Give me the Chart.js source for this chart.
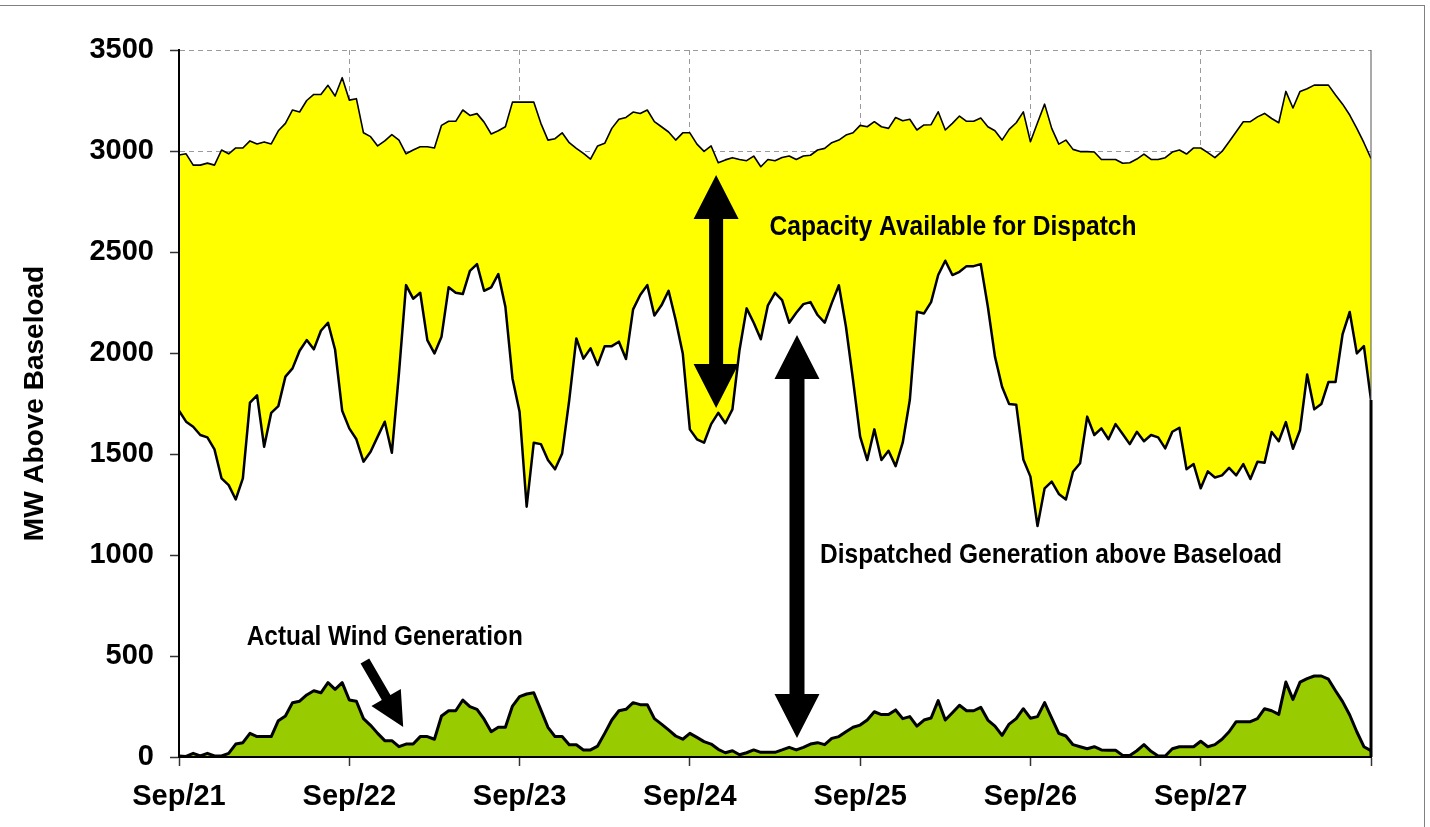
<!DOCTYPE html>
<html>
<head>
<meta charset="utf-8">
<script src="https://cdn.jsdelivr.net/npm/chart.js@4.4.0/dist/chart.umd.min.js"></script>
<style>
  html, body { margin: 0; padding: 0; background: #fff; }
</style>
</head>
<body>
<canvas id="chart" width="1430" height="827"></canvas>
<script>
// Day labels on the x axis (one tick every 24 hours)
const dayLabels = ['Sep/21', 'Sep/22', 'Sep/23', 'Sep/24', 'Sep/25', 'Sep/26', 'Sep/27', ''];

// Hourly values, MW above baseload (169 points, Sep/21 00:00 to Sep/28 00:00)
const capacity = [
  2980, 2986, 2930, 2930, 2940, 2930, 3005, 2986, 3015, 3015, 3050, 3035, 3045, 3035, 3100, 3137, 3203, 3193, 3250, 3280,
  3280, 3325, 3272, 3363, 3252, 3259, 3090, 3071, 3025, 3050, 3081, 3054, 2986, 3005, 3021, 3021, 3015, 3127, 3147, 3147,
  3203, 3176, 3185, 3143, 3084, 3100, 3120, 3242, 3242, 3242, 3242, 3137, 3054, 3061, 3090, 3041, 3013, 2988, 2960, 3025,
  3038, 3112, 3157, 3166, 3193, 3186, 3203, 3145, 3120, 3094, 3054, 3090, 3090, 3034, 2998, 3025, 2942, 2956, 2967, 2958,
  2952, 2975, 2922, 2958, 2952, 2968, 2975, 2958, 2975, 2979, 3005, 3013, 3041, 3054, 3079, 3090, 3127, 3120, 3145, 3120,
  3112, 3166, 3150, 3157, 3104, 3129, 3130, 3194, 3104, 3137, 3173, 3147, 3147, 3163, 3120, 3100, 3054, 3107, 3140, 3194,
  3046, 3140, 3232, 3112, 3034, 3054, 3008, 2997, 2997, 2995, 2958, 2958, 2958, 2939, 2942, 2960, 2985, 2958, 2958, 2967,
  2995, 3005, 2985, 3015, 3015, 2992, 2967, 2998, 3046, 3095, 3145, 3145, 3169, 3186, 3161, 3140, 3295, 3213, 3295, 3308,
  3326, 3326, 3326, 3277, 3232, 3178, 3112, 3041, 2963
];
const dispatched = [
  1714, 1660, 1635, 1594, 1582, 1523, 1379, 1346, 1275, 1379, 1754, 1790, 1536, 1704, 1737, 1883, 1924, 2011, 2064, 2018,
  2110, 2150, 2016, 1714, 1627, 1573, 1462, 1511, 1586, 1660, 1506, 1899, 2336, 2269, 2298, 2064, 1998, 2081, 2325, 2298,
  2292, 2407, 2440, 2308, 2325, 2391, 2229, 1874, 1709, 1239, 1556, 1549, 1470, 1424, 1503, 1767, 2072, 1972, 2023, 1940,
  2034, 2034, 2056, 1970, 2216, 2287, 2336, 2186, 2236, 2308, 2163, 1998, 1622, 1573, 1556, 1648, 1704, 1652, 1721, 2015,
  2221, 2150, 2068, 2236, 2298, 2262, 2150, 2199, 2242, 2252, 2188, 2150, 2247, 2335, 2130, 1866, 1586, 1470, 1622, 1470,
  1516, 1440, 1556, 1767, 2204, 2196, 2252, 2386, 2457, 2386, 2402, 2430, 2430, 2440, 2229, 1982, 1833, 1747, 1744, 1473,
  1388, 1143, 1330, 1363, 1302, 1275, 1412, 1454, 1685, 1594, 1627, 1573, 1648, 1599, 1549, 1610, 1563, 1594, 1582, 1528,
  1610, 1630, 1424, 1450, 1330, 1414, 1384, 1394, 1431, 1394, 1450, 1376, 1462, 1457, 1609, 1563, 1658, 1526, 1619, 1893,
  1721, 1747, 1856, 1856, 2094, 2203, 1998, 2034, 1767
];
const wind = [
  5, 3, 18, 5, 18, 5, 5, 18, 64, 71, 117, 101, 101, 101, 180, 203, 269, 276, 307, 328,
  318, 368, 335, 368, 282, 276, 190, 157, 117, 81, 81, 51, 64, 64, 101, 101, 88, 203, 229, 229,
  282, 249, 236, 187, 125, 147, 147, 252, 299, 312, 318, 233, 147, 101, 101, 61, 61, 35, 35, 54,
  117, 183, 229, 236, 269, 259, 259, 190, 163, 134, 104, 88, 117, 97, 76, 64, 38, 21, 31, 11,
  21, 35, 23, 23, 23, 35, 48, 35, 48, 64, 71, 61, 92, 101, 125, 147, 158, 183, 224, 210,
  210, 233, 190, 200, 153, 183, 193, 279, 183, 219, 256, 229, 229, 246, 183, 153, 107, 163, 190, 239,
  192, 200, 269, 192, 117, 104, 61, 51, 41, 51, 35, 33, 33, 8, 8, 31, 61, 28, 5, 5,
  41, 51, 51, 51, 78, 51, 61, 88, 125, 175, 175, 175, 190, 239, 229, 211, 371, 285, 371, 388,
  401, 401, 385, 328, 274, 208, 125, 51, 31
];

const FONT = "'Liberation Sans', Arial, sans-serif";

function toPoints(arr) {
  return arr.map((v, i) => ({ x: i, y: v }));
}

// thin frame round the whole chart
const framePlugin = {
  id: 'frame',
  afterDraw(chart) {
    const ctx = chart.ctx;
    ctx.save();
    ctx.strokeStyle = '#808080';
    ctx.lineWidth = 1;
    ctx.strokeRect(-1.5, 5.5, 1426, 830);
    ctx.restore();
  }
};

// text + arrows drawn on top, positioned in data units through the scales
const notesPlugin = {
  id: 'notes',
  afterDatasetsDraw(chart) {
    const ctx = chart.ctx;
    const xs = chart.scales.x, ys = chart.scales.y;
    const px = h => xs.getPixelForValue(h);
    const py = v => ys.getPixelForValue(v);
    const last = dispatched.length - 1;

    ctx.save();
    // right edge of the dispatched area
    ctx.strokeStyle = '#000';
    ctx.lineWidth = 3;
    ctx.beginPath();
    ctx.moveTo(px(last), py(dispatched[last]));
    ctx.lineTo(px(last), py(0));
    ctx.stroke();
    // thin right border of the plot
    ctx.strokeStyle = '#555';
    ctx.lineWidth = 1;
    ctx.beginPath();
    ctx.moveTo(px(last), py(3500));
    ctx.lineTo(px(last), py(dispatched[last]));
    ctx.stroke();

    // labels
    const label = (text, h, v, w) => {
      ctx.font = 'bold 27px ' + FONT;
      const mw = ctx.measureText(text).width;
      ctx.save();
      ctx.translate(px(h), py(v));
      ctx.scale(w / mw, 1);
      ctx.fillStyle = '#000';
      ctx.textAlign = 'center';
      ctx.textBaseline = 'middle';
      ctx.fillText(text, 0, 0);
      ctx.restore();
    };
    label('Capacity Available for Dispatch', 109.1, 2619, 367);
    label('Dispatched Generation above Baseload', 122.9, 995, 462);
    label('Actual Wind Generation', 29.0, 589, 276);

    // arrows: shaft from (x1,y1) to (x2,y2), heads at the end (and the start if both)
    const arrow = (x1, y1, x2, y2, shaft, headLen, headW, both) => {
      const len = Math.hypot(x2 - x1, y2 - y1);
      const s = both ? headLen : 0;
      ctx.save();
      ctx.translate(x1, y1);
      ctx.rotate(Math.atan2(y2 - y1, x2 - x1));
      ctx.fillStyle = '#000';
      ctx.beginPath();
      if (both) {
        ctx.moveTo(0, 0);
        ctx.lineTo(s, -headW / 2);
        ctx.lineTo(s, -shaft / 2);
      } else {
        ctx.moveTo(0, -shaft / 2);
      }
      ctx.lineTo(len - headLen, -shaft / 2);
      ctx.lineTo(len - headLen, -headW / 2);
      ctx.lineTo(len, 0);
      ctx.lineTo(len - headLen, headW / 2);
      ctx.lineTo(len - headLen, shaft / 2);
      if (both) {
        ctx.lineTo(s, shaft / 2);
        ctx.lineTo(s, headW / 2);
      } else {
        ctx.lineTo(0, shaft / 2);
      }
      ctx.closePath();
      ctx.fill();
      ctx.restore();
    };
    arrow(px(75.7), py(2881), px(75.7), py(1728), 14, 44, 45, true);
    arrow(px(87.1), py(2089), px(87.1), py(94), 15, 44, 45, true);
    arrow(px(26.2), py(475), px(31.6), py(149), 10, 34, 34, false);
    ctx.restore();
  }
};

new Chart(document.getElementById('chart'), {
  type: 'line',
  data: {
    datasets: [
      {
        label: 'Actual Wind Generation',
        data: toPoints(wind),
        borderColor: '#000',
        borderWidth: 3,
        backgroundColor: '#99CC00',
        fill: 'origin'
      },
      {
        label: 'Dispatched Generation above Baseload',
        data: toPoints(dispatched),
        borderColor: '#000',
        borderWidth: 2.5,
        backgroundColor: '#FFFFFF',
        fill: 'origin'
      },
      {
        label: 'Capacity Available for Dispatch',
        data: toPoints(capacity),
        borderColor: '#000',
        borderWidth: 1.6,
        backgroundColor: '#FFFF00',
        fill: 'origin'
      }
    ]
  },
  options: {
    responsive: false,
    animation: false,
    devicePixelRatio: 1,
    layout: { padding: { top: 50, right: 59, left: 0, bottom: 0 } },
    elements: {
      point: { radius: 0, hoverRadius: 0 },
      line: { tension: 0, borderJoinStyle: 'round' }
    },
    plugins: {
      legend: { display: false },
      tooltip: { enabled: false }
    },
    scales: {
      x: {
        type: 'linear',
        min: 0,
        max: 168,
        afterFit: s => { s.height = 70; },
        ticks: {
          stepSize: 24,
          autoSkip: false,
          maxRotation: 0,
          padding: 14,
          color: '#000',
          font: { family: FONT, size: 29, weight: 'bold' },
          callback: v => dayLabels[v / 24]
        },
        grid: {
          color: c => (c.tick && c.tick.value > 0 && c.tick.value < 168) ? '#9a9a9a' : 'rgba(0,0,0,0)',
          lineWidth: 1,
          tickColor: '#333',
          tickLength: 9,
          tickWidth: 1.5
        },
        border: { color: '#000', width: 2, dash: [5, 4], z: 1 }
      },
      y: {
        min: 0,
        max: 3500,
        afterFit: s => { s.width = 179; },
        ticks: {
          stepSize: 500,
          padding: 16,
          color: '#000',
          font: { family: FONT, size: 29, weight: 'bold' },
          callback: v => String(v)
        },
        grid: {
          color: '#9a9a9a',
          lineWidth: 1,
          tickColor: '#333',
          tickLength: 9,
          tickWidth: 1.5
        },
        border: { color: '#000', width: 2, dash: [5, 4], z: 1 },
        title: {
          display: true,
          text: 'MW Above Baseload',
          color: '#000',
          padding: { top: 18, bottom: 0 },
          font: { family: FONT, size: 28, weight: 'bold' }
        }
      }
    }
  },
  plugins: [notesPlugin, framePlugin]
});
</script>
</body>
</html>
